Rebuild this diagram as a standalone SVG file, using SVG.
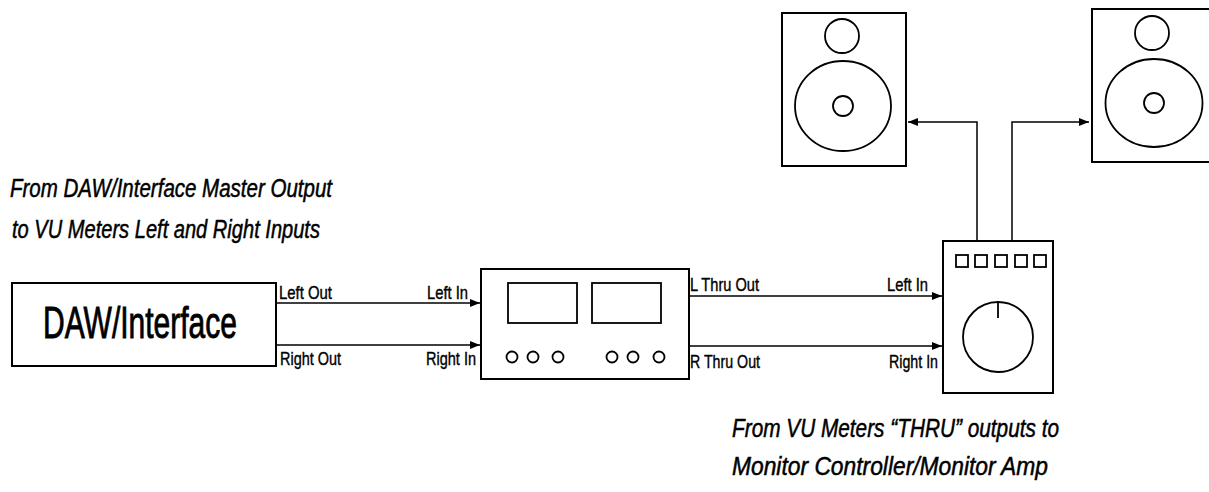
<svg xmlns="http://www.w3.org/2000/svg" width="1209" height="492" viewBox="0 0 1209 492">
<style>
.box{fill:#fff;stroke:#000;stroke-width:2}
.thin{fill:none;stroke:#000;stroke-width:1.8}
.wire{fill:none;stroke:#000;stroke-width:1.5}
.lbl{font-family:"Liberation Sans",Arial,sans-serif;font-size:19px;fill:#000;stroke:#000;stroke-width:0.4}
.head{font-family:"Liberation Sans",Arial,sans-serif;font-size:25px;font-style:italic;fill:#000;stroke:#000;stroke-width:0.5}
.big{font-family:"Liberation Sans",Arial,sans-serif;font-size:45px;fill:#000;stroke:#000;stroke-width:0.9}
</style>
<defs>
<marker id="arr" markerWidth="10" markerHeight="8" refX="10" refY="4" orient="auto" markerUnits="userSpaceOnUse">
<path d="M0,0 L10,4 L0,8 Z" fill="#000"/>
</marker>
</defs>
<rect width="1209" height="492" fill="#fff"/>

<g id="caption-top">
<text class="head" x="10" y="197" textLength="322" lengthAdjust="spacingAndGlyphs">From DAW/Interface Master Output</text>
<text class="head" x="12" y="238" textLength="308" lengthAdjust="spacingAndGlyphs">to VU Meters Left and Right Inputs</text>
</g>

<g id="caption-bottom">
<text class="head" x="732" y="437" textLength="327" lengthAdjust="spacingAndGlyphs">From VU Meters “THRU” outputs to</text>
<text class="head" x="732" y="475" textLength="316" lengthAdjust="spacingAndGlyphs">Monitor Controller/Monitor Amp</text>
</g>

<g id="daw">
<rect class="box" x="12" y="283" width="264" height="83"/>
<text class="big" transform="matrix(0.663,0,0,1,43,338)" x="0" y="0" textLength="292.6" lengthAdjust="spacingAndGlyphs">DAW/Interface</text>
</g>

<g id="vu-meters">
<rect class="box" x="481" y="269" width="208" height="110"/>
<rect class="thin" x="508" y="283" width="69" height="40"/>
<rect class="thin" x="592" y="283" width="69" height="40"/>
<circle class="thin" cx="512" cy="357" r="5.5"/>
<circle class="thin" cx="533" cy="357" r="5.5"/>
<circle class="thin" cx="558" cy="357" r="5.5"/>
<circle class="thin" cx="612" cy="357" r="5.5"/>
<circle class="thin" cx="633" cy="357" r="5.5"/>
<circle class="thin" cx="659" cy="357" r="5.5"/>
</g>

<g id="monitor-controller">
<rect class="box" x="943" y="241" width="110" height="152"/>
<rect class="thin" x="956" y="255" width="12" height="12"/>
<rect class="thin" x="975" y="255" width="12" height="12"/>
<rect class="thin" x="995" y="255" width="12" height="12"/>
<rect class="thin" x="1015" y="255" width="12" height="12"/>
<rect class="thin" x="1034" y="255" width="12" height="12"/>
<circle class="thin" cx="998" cy="337" r="35"/>
<line class="thin" x1="998" y1="302" x2="998" y2="318"/>
</g>

<g id="speaker-left">
<rect class="box" x="782" y="13" width="124" height="153"/>
<circle class="thin" cx="842" cy="36" r="17"/>
<ellipse class="thin" cx="843" cy="106" rx="48" ry="45"/>
<circle class="thin" cx="843" cy="106" r="10"/>
</g>

<g id="speaker-right">
<rect class="box" x="1092" y="9" width="130" height="153"/>
<circle class="thin" cx="1152" cy="33" r="17"/>
<ellipse class="thin" cx="1154" cy="103" rx="48.5" ry="44"/>
<circle class="thin" cx="1154" cy="103" r="10"/>
</g>

<g id="connectors">
<line class="wire" x1="276" y1="303" x2="480" y2="303" marker-end="url(#arr)"/>
<line class="wire" x1="276" y1="345" x2="480" y2="345" marker-end="url(#arr)"/>
<line class="wire" x1="689" y1="296" x2="942" y2="296" marker-end="url(#arr)"/>
<line class="wire" x1="689" y1="346" x2="942" y2="346" marker-end="url(#arr)"/>
<polyline class="wire" points="977,241 977,122 908,122" marker-end="url(#arr)"/>
<polyline class="wire" points="1012,241 1012,122 1089,122" marker-end="url(#arr)"/>
<text class="lbl" x="279" y="299" textLength="53" lengthAdjust="spacingAndGlyphs">Left Out</text>
<text class="lbl" x="280" y="365" textLength="61" lengthAdjust="spacingAndGlyphs">Right Out</text>
<text class="lbl" x="427" y="299" textLength="41" lengthAdjust="spacingAndGlyphs">Left In</text>
<text class="lbl" x="426" y="365" textLength="50" lengthAdjust="spacingAndGlyphs">Right In</text>
<text class="lbl" x="690" y="291" textLength="69" lengthAdjust="spacingAndGlyphs">L Thru Out</text>
<text class="lbl" x="690" y="368" textLength="70" lengthAdjust="spacingAndGlyphs">R Thru Out</text>
<text class="lbl" x="887" y="291" textLength="41" lengthAdjust="spacingAndGlyphs">Left In</text>
<text class="lbl" x="889" y="368" textLength="49" lengthAdjust="spacingAndGlyphs">Right In</text>
</g>
</svg>
